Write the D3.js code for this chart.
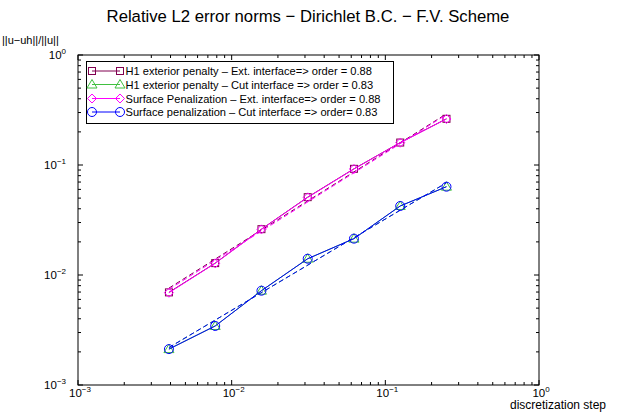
<!DOCTYPE html>
<html><head><meta charset="utf-8">
<script src="https://cdn.jsdelivr.net/npm/d3@7"></script>
<style>body{margin:0;background:#fff;} text{font-family:"Liberation Sans",Arial,Helvetica,sans-serif;}</style>
</head><body><svg id="c" width="625" height="414"></svg>
<script>
const steps = [1/256, 1/128, 1/64, 1/32, 1/16, 1/8, 1/4];
const h1Ext   = [0.00695, 0.01282, 0.0261, 0.0510, 0.0923, 0.1600, 0.2630];
const h1Cut   = [0.00212, 0.00344, 0.00720, 0.01406, 0.0214, 0.0424, 0.0635];
const surfExt = [0.00690, 0.01277, 0.0260, 0.0508, 0.0920, 0.1595, 0.2620];
const surfCut = [0.00212, 0.00344, 0.00720, 0.01406, 0.0214, 0.0424, 0.0635];
const fitSteps = [1/256, 1/4];
const fitH1Ext = [0.00760, 0.2920];
const fitH1Cut = [0.00219, 0.0690];
const fitSurfExt = [0.00741, 0.2877];
const fitSurfCut = [0.00219, 0.0690];
const legendLabels = [
  "H1 exterior penalty \u2013 Ext. interface=> order = 0.88",
  "H1 exterior penalty \u2013 Cut interface => order = 0.83",
  "Surface Penalization \u2013 Ext. interface=> order = 0.88",
  "Surface penalization \u2013 Cut interface => order= 0.83"];
const xTickExp = [-3, -2, -1, 0];
const yTickExp = [-3, -2, -1, 0];

const series = [
  {vals:h1Ext, fit:fitH1Ext, color:"#800050", marker:"square"},
  {vals:h1Cut, fit:fitH1Cut, color:"#40c040", marker:"triangle"},
  {vals:surfExt, fit:fitSurfExt, color:"#ff00ff", marker:"diamond"},
  {vals:surfCut, fit:fitSurfCut, color:"#0000ff", marker:"circle"}];

const svg = d3.select("#c");
const L=78, R=539, T=55, B=385;
const x = d3.scaleLog().domain([1e-3,1]).range([L,R]);
const y = d3.scaleLog().domain([1e-3,1]).range([B,T]);

svg.append("text").attr("x",308).attr("y",22).attr("text-anchor","middle")
  .attr("font-size",16.7).text("Relative L2 error norms \u2212 Dirichlet B.C. \u2212 F.V. Scheme");

// frame
svg.append("rect").attr("x",L).attr("y",T).attr("width",R-L).attr("height",B-T)
  .attr("fill","none").attr("stroke","#000").attr("stroke-width",1);

// ticks
const minors = [];
for (let e=-3;e<0;e++) for (let k=2;k<=9;k++) minors.push(k*Math.pow(10,e));
const majors = xTickExp.map(e=>Math.pow(10,e));
const tg = svg.append("g").attr("stroke","#000").attr("stroke-width",1);
function ticks(vals,len){
  vals.forEach(v=>{
    const px=x(v), py=y(v);
    tg.append("line").attr("x1",px).attr("x2",px).attr("y1",B).attr("y2",B-len);
    tg.append("line").attr("x1",px).attr("x2",px).attr("y1",T).attr("y2",T+len);
    tg.append("line").attr("y1",py).attr("y2",py).attr("x1",L).attr("x2",L+len);
    tg.append("line").attr("y1",py).attr("y2",py).attr("x1",R).attr("x2",R-len);
  });
}
ticks(minors,3); ticks(majors,5);

// tick labels
function powLabel(g, px, py, e, anchor){
  const t = g.append("text").attr("x",px).attr("y",py).attr("font-size",11.5).attr("text-anchor",anchor);
  t.append("tspan").text("10");
  t.append("tspan").attr("dy",-5).attr("font-size",8).text(e===0?"0":"\u2212"+(-e));
}
xTickExp.forEach(e=>powLabel(svg, x(Math.pow(10,e))+2, B+12, e, "middle"));
yTickExp.forEach(e=>powLabel(svg, 66, y(Math.pow(10,e))+4, e, "end"));

svg.append("text").attr("x",2).attr("y",44).attr("font-size",11).text("||u\u2212uh||/||u||");
svg.append("text").attr("x",558).attr("y",409).attr("font-size",12).attr("text-anchor","middle").text("discretization step");

function marker(g, type, cx, cy, color){
  if(type==="square") g.append("rect").attr("x",cx-3.5).attr("y",cy-3.5).attr("width",7).attr("height",7)
      .attr("fill","none").attr("stroke",color);
  else if(type==="circle") g.append("circle").attr("cx",cx).attr("cy",cy).attr("r",4.5).attr("fill","none").attr("stroke",color);
  else if(type==="diamond") g.append("path").attr("d",`M${cx},${cy-4.5}L${cx+4.5},${cy}L${cx},${cy+4.5}L${cx-4.5},${cy}Z`)
      .attr("fill","none").attr("stroke",color);
  else if(type==="triangle") g.append("path").attr("d",`M${cx},${cy-5}L${cx+5},${cy+3.5}L${cx-5},${cy+3.5}Z`)
      .attr("fill","none").attr("stroke",color);
}

const line = d3.line().x(d=>x(d[0])).y(d=>y(d[1]));
const pg = svg.append("g");
series.forEach(s=>{
  pg.append("path").datum(steps.map((h,i)=>[h,s.vals[i]])).attr("d",line)
    .attr("fill","none").attr("stroke",s.color).attr("stroke-width",1);
  pg.append("path").datum(fitSteps.map((h,i)=>[h,s.fit[i]])).attr("d",line)
    .attr("fill","none").attr("stroke",s.color).attr("stroke-width",1).attr("stroke-dasharray","5,3");
  steps.forEach((h,i)=>marker(pg, s.marker, x(h), y(s.vals[i]), s.color));
});

// legend
const lg = svg.append("g");
lg.append("rect").attr("x",86.5).attr("y",61.5).attr("width",307).attr("height",62)
  .attr("fill","#fff").attr("stroke","#000");
const rows = [71, 84.5, 98.5, 112];
series.forEach((s,i)=>{
  lg.append("line").attr("x1",92).attr("x2",120).attr("y1",rows[i]).attr("y2",rows[i]).attr("stroke",s.color);
  marker(lg, s.marker, 92, rows[i], s.color);
  marker(lg, s.marker, 120, rows[i], s.color);
  lg.append("text").attr("x",125.5).attr("y",rows[i]+4).attr("font-size",11.1).text(legendLabels[i]);
});
</script></body></html>
